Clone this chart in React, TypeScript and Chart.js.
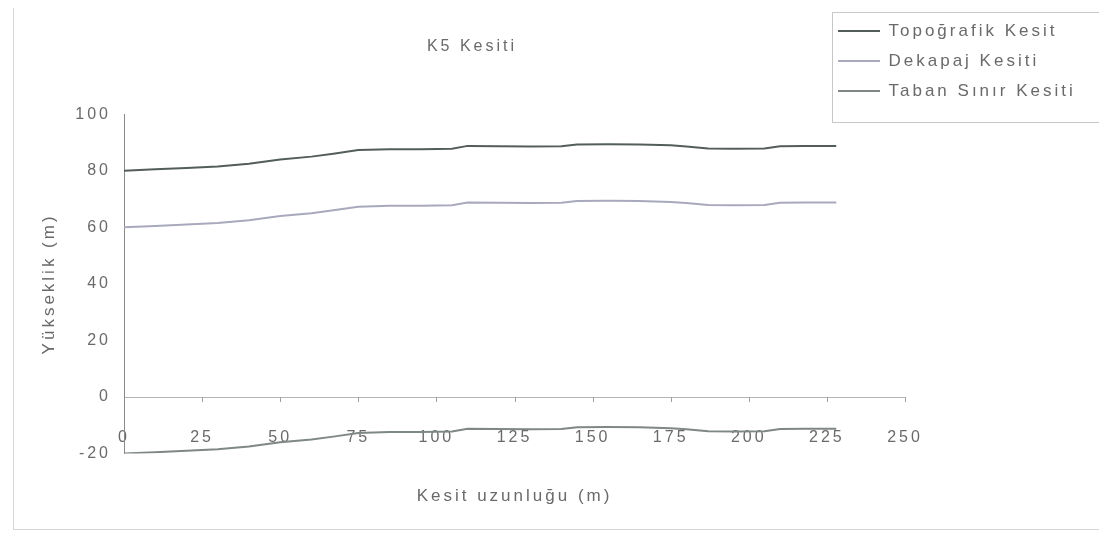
import React, { useEffect, useRef } from 'react';
import { Chart, registerables } from 'chart.js';

Chart.register(...registerables);

// Distance along section (m)
const distances = [0, 10, 20, 30, 40, 50, 60, 67, 75, 85, 95, 105, 110, 120, 130, 140, 145, 155, 165, 175, 180, 187, 195, 205, 210, 218, 228];
// Topoğrafik Kesit (m)
const topografik = [80, 80.5, 81, 81.5, 82.5, 84, 85, 86, 87.3, 87.6, 87.6, 87.8, 88.8, 88.7, 88.6, 88.7, 89.3, 89.4, 89.3, 89.0, 88.6, 87.9, 87.8, 87.9, 88.7, 88.8, 88.8];
// Dekapaj Kesiti (m)
const dekapaj = [60, 60.5, 61, 61.5, 62.5, 64, 65, 66, 67.3, 67.6, 67.6, 67.8, 68.8, 68.7, 68.6, 68.7, 69.3, 69.4, 69.3, 69.0, 68.6, 67.9, 67.8, 67.9, 68.7, 68.8, 68.8];
// Taban Sınır Kesiti (m)
const taban = [-20, -19.5, -19, -18.5, -17.5, -16, -15, -14, -12.7, -12.4, -12.4, -12.2, -11.2, -11.3, -11.4, -11.3, -10.7, -10.6, -10.7, -11.0, -11.4, -12.1, -12.2, -12.1, -11.3, -11.2, -11.2];

const seriesNames = ['Topoğrafik Kesit', 'Dekapaj Kesiti', 'Taban Sınır Kesiti'];
const seriesColors = ['#535e58', '#a9a9bd', '#7f8787'];

const chartTitle = 'K5 Kesiti';
const xTitle = 'Kesit uzunluğu (m)';
const yTitle = 'Yükseklik (m)';
const xMin = 0, xMax = 250, xStep = 25;
const yMin = -20, yMax = 100, yStep = 20;

const FONT = '"Liberation Sans", Arial, sans-serif';
const TEXT = '#6a6a6a';
const SPACING = '3px';

const toPoints = (ys: number[]) => distances.map((x, i) => ({ x, y: ys[i] }));

const decorPlugin = {
  id: 'decor',
  beforeUpdate(chart: any) {
    chart.ctx.letterSpacing = SPACING;
  },
  beforeDraw(chart: any) {
    chart.ctx.letterSpacing = SPACING;
  },
  afterLayout(chart: any) {
    const lg = chart.legend;
    if (!lg) return;
    lg.left = 825;
    lg.top = 9.5;
    lg.right = 1102;
    lg.bottom = 170;
    lg.width = lg.right - lg.left;
    lg.height = lg.bottom - lg.top;
  },
  afterDraw(chart: any) {
    const ctx = chart.ctx;
    ctx.save();
    ctx.lineWidth = 1;
    ctx.strokeStyle = '#d6d6d6';
    ctx.strokeRect(13.5, 3.5, 1088, 526);
    ctx.strokeStyle = '#c8c8c8';
    ctx.strokeRect(832.5, 12.5, 268, 110);
    // small tick marks on the zero line
    const xs = chart.scales.x;
    const ys = chart.scales.y;
    const y0 = ys.getPixelForValue(0);
    ctx.strokeStyle = '#a0a0a0';
    xs.ticks.forEach((t: any) => {
      if (t.value === 0) return;
      const px = Math.round(xs.getPixelForValue(t.value)) + 0.5;
      ctx.beginPath();
      ctx.moveTo(px, y0);
      ctx.lineTo(px, y0 + 5);
      ctx.stroke();
    });
    ctx.restore();
  },
};

export default function App() {
  const ref = useRef<HTMLCanvasElement | null>(null);
  useEffect(() => {
    if (!ref.current) return;
    const chart = new Chart(ref.current, {
      type: 'line',
      data: {
        datasets: [topografik, dekapaj, taban].map((ys, i) => ({
          label: seriesNames[i],
          data: toPoints(ys),
          borderColor: seriesColors[i],
          backgroundColor: seriesColors[i],
          borderWidth: 2,
          pointRadius: 0,
          tension: 0,
          fill: false,
        })),
      },
      options: {
        responsive: false,
        animation: false,
        layout: { padding: { left: 39, right: 202, top: 0, bottom: 27 } },
        plugins: {
          title: {
            display: true,
            text: chartTitle,
            color: TEXT,
            font: { family: FONT, size: 16, weight: 'normal' },
            padding: { top: 37, bottom: 58 },
          },
          legend: {
            display: true,
            position: 'chartArea',
            align: 'start',
            labels: {
              usePointStyle: true,
              pointStyle: 'line',
              pointStyleWidth: 42,
              padding: 13,
              color: TEXT,
              font: { family: FONT, size: 17 },
            },
          },
          tooltip: { enabled: false },
        },
        scales: {
          x: {
            type: 'linear',
            min: xMin,
            max: xMax,
            position: 'bottom',
            border: { display: false },
            grid: { display: false, drawTicks: false },
            ticks: {
              stepSize: xStep,
              mirror: true,
              padding: 6,
              color: TEXT,
              font: { family: FONT, size: 16 },
              maxRotation: 0,
              autoSkip: false,
            },
            title: {
              display: true,
              text: xTitle,
              color: TEXT,
              font: { family: FONT, size: 17 },
              padding: { top: 21, bottom: 0 },
            },
          },
          y: {
            type: 'linear',
            min: yMin,
            max: yMax,
            border: { display: true, color: '#8a8a8a', width: 1 },
            grid: {
              drawTicks: false,
              color: (c: any) => (c.tick && c.tick.value === 0 ? '#b4b4b4' : 'rgba(0,0,0,0)'),
            },
            ticks: {
              stepSize: yStep,
              padding: 13,
              color: TEXT,
              font: { family: FONT, size: 16 },
            },
            title: {
              display: true,
              text: yTitle,
              color: TEXT,
              font: { family: FONT, size: 17 },
              padding: 0,
            },
            afterFit: (scale: any) => {
              scale.width = 85;
            },
          },
        },
      },
      plugins: [decorPlugin],
    } as any);
    return () => chart.destroy();
  }, []);

  return (
    <div style={{ width: 1107, height: 534, margin: '-8px 0 0 -8px', position: 'relative', background: '#fff' }}>
      <canvas ref={ref} width={1107} height={534} style={{ display: 'block' }} />
    </div>
  );
}
